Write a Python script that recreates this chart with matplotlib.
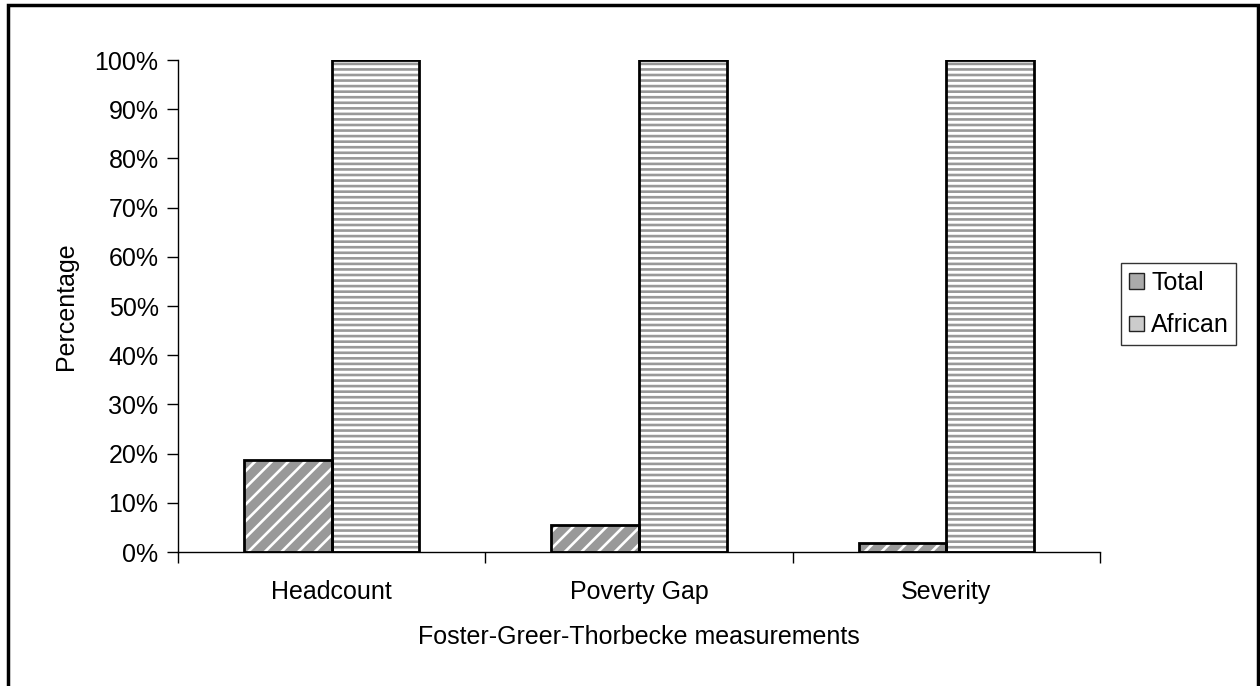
import matplotlib
matplotlib.use("Agg")
import matplotlib.pyplot as plt
from matplotlib.patches import Patch, Rectangle
from matplotlib.ticker import PercentFormatter
import numpy as np

plt.rcParams['font.family'] = ['Liberation Sans', 'DejaVu Sans']
plt.rcParams['hatch.linewidth'] = 1.9

categories = ["Headcount", "Poverty Gap", "Severity"]
total = [18.8, 5.4, 1.8]
african = [100, 100, 100]
series_names = ["Total", "African"]
yticks = list(range(0, 101, 10))

fig = plt.figure(figsize=(12.6, 6.86), dpi=100)
ax = fig.add_axes([178/1260, 1-552/686, 922/1260, 492/686])

x = np.arange(len(categories))
w = 1/3.5
gray = '#999999'

def hatched(xpos, vals, hatch, face, line):
    ax.bar(xpos, vals, w, color=face, edgecolor=line, linewidth=0, hatch=hatch, zorder=2)
    ax.bar(xpos, vals, w, fill=False, edgecolor='black', linewidth=2, zorder=3)

hatched(x - w/2, total, '//', gray, 'white')
hatched(x + w/2, african, '---', 'white', gray)

ax.set_xlim(-0.5, len(categories) - 0.5)
ax.set_ylim(0, 100)
ax.set_yticks(yticks)
ax.yaxis.set_major_formatter(PercentFormatter(decimals=0))
ax.set_xticks(x)
ax.set_xticklabels(categories)
ax.set_xticks(np.arange(len(categories) + 1) - 0.5, minor=True)
ax.tick_params(axis='x', which='major', length=0, pad=20, labelsize=18)
ax.tick_params(axis='x', which='minor', length=8, width=1, direction='out')
ax.tick_params(axis='y', length=8, width=1, direction='out', labelsize=18, pad=6)
for s in ['top', 'right']:
    ax.spines[s].set_visible(False)
ax.spines['left'].set_linewidth(1)
ax.spines['bottom'].set_linewidth(1)

ax.set_xlabel("Foster-Greer-Thorbecke measurements", fontsize=18, labelpad=15)
ax.set_ylabel("Percentage", fontsize=18, labelpad=12)

handles = [Patch(facecolor='#aaaaaa', edgecolor='#222222', label=series_names[0]),
           Patch(facecolor='#cccccc', edgecolor='#222222', label=series_names[1])]
leg = fig.legend(handles=handles, loc='upper left', bbox_to_anchor=(1121/1260, 1-263/686),
                 fontsize=18, frameon=True, fancybox=False, edgecolor='black',
                 handlelength=0.6, handleheight=0.6, handletextpad=0.3, borderpad=0.3,
                 labelspacing=0.75, borderaxespad=0)
leg.get_frame().set_linewidth(1)

border = Rectangle((8/1260, -0.01), (1258-8)/1260, 1.01 - 5/686, transform=fig.transFigure,
                   fill=False, edgecolor='black', linewidth=2.5)
fig.patches.append(border)

fig.savefig("out.png", dpi=100)
